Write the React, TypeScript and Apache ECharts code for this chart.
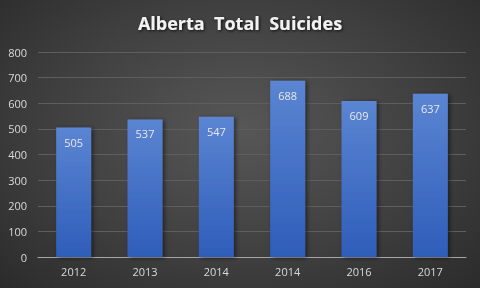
import React, { useEffect, useRef } from "react";
import * as echarts from "echarts";

const categories = ["2012", "2013", "2014", "2014", "2016", "2017"];
const suicides = [505, 537, 547, 688, 609, 637];
const yTicks = { min: 0, max: 800, interval: 100 };

export default function App() {
  const ref = useRef<HTMLDivElement>(null);
  useEffect(() => {
    const chart = echarts.init(ref.current!, null, { renderer: "svg" });
    chart.setOption({
      animation: false,
      backgroundColor: "transparent",
      title: {
        text: "Alberta  Total  Suicides",
        left: "center",
        top: 9,
        textStyle: {
          color: "#f2f2f2",
          fontFamily: "Open Sans",
          fontWeight: "bold",
          fontSize: 18,
          textShadowColor: "rgba(0,0,0,0.8)",
          textShadowBlur: 3,
          textShadowOffsetX: 1,
          textShadowOffsetY: 1,
        },
      },
      grid: { left: 38, right: 14, top: 52, bottom: 31 },
      xAxis: {
        type: "category",
        data: categories,
        axisLine: { lineStyle: { color: "#a6a6a6", width: 1 } },
        axisTick: { show: false },
        axisLabel: { color: "#d9d9d9", fontFamily: "Open Sans", fontSize: 11, margin: 9 },
      },
      yAxis: {
        type: "value",
        min: yTicks.min,
        max: yTicks.max,
        interval: yTicks.interval,
        axisLine: { show: false },
        axisTick: { show: false },
        axisLabel: { color: "#d9d9d9", fontFamily: "Open Sans", fontSize: 11, margin: 11 },
        splitLine: { lineStyle: { color: "#5e5e5e", width: 1 } },
      },
      series: [
        {
          type: "bar",
          data: suicides,
          barWidth: "49%",
          itemStyle: {
            color: new echarts.graphic.LinearGradient(0, 0, 0, 1, [
              { offset: 0, color: "#5b85d2" },
              { offset: 1, color: "#2e5db9" },
            ]),
            shadowColor: "rgba(0,0,0,0.5)",
            shadowBlur: 4,
            shadowOffsetX: 2,
            shadowOffsetY: 1,
          },
          label: {
            show: true,
            position: "insideTop",
            distance: 9,
            color: "#e8e8e8",
            fontFamily: "Open Sans",
            fontSize: 11,
          },
        },
      ],
    });
    return () => chart.dispose();
  }, []);
  return (
    <div
      style={{
        position: "fixed",
        left: 0,
        top: 0,
        width: 480,
        height: 288,
        background: "radial-gradient(ellipse at 50% 45%, #575757 0%, #404040 55%, #2b2b2b 100%)",
      }}
    >
      <div ref={ref} style={{ width: 480, height: 288 }} />
    </div>
  );
}
